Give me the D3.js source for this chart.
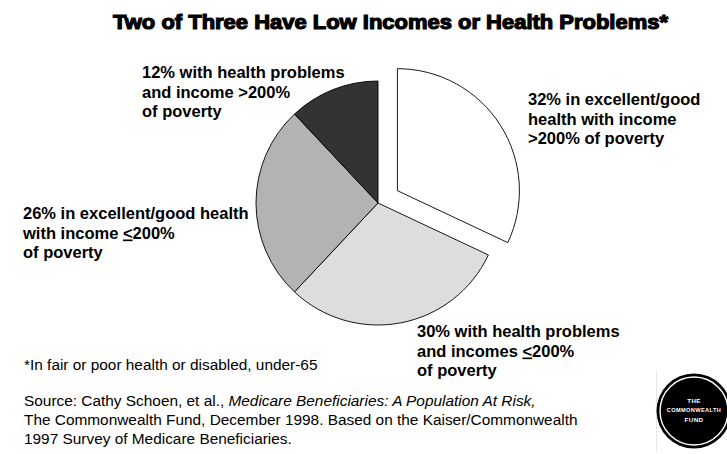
<!DOCTYPE html>
<html>
<head>
<meta charset="utf-8">
<script src="https://cdn.jsdelivr.net/npm/d3@7"></script>
<style>
  html, body { margin: 0; padding: 0; background: #fff; }
  svg { display: block; }
  text { font-family: "Liberation Sans", Arial, sans-serif; fill: #000; }
</style>
</head>
<body>
<svg id="chart" width="727" height="454"></svg>
<script>
// Beneficiary groups, clockwise from 12 o'clock
const groups = ["Excellent/good health, income >200%", "Health problems, income <=200%", "Excellent/good health, income <=200%", "Health problems, income >200%"];
const shares = [32, 30, 26, 12];
const fills = ["#ffffff", "#dddddd", "#b3b3b3", "#333333"];

// Label lines per slice; segments flagged u=true are underlined ("<" standing in for "≤")
const labelLines = [
  [[{t: "32% in excellent/good"}], [{t: "health with income"}], [{t: ">200% of poverty"}]],
  [[{t: "30% with health problems"}], [{t: "and incomes "}, {t: "<", u: true}, {t: "200%"}], [{t: "of poverty"}]],
  [[{t: "26% in excellent/good health"}], [{t: "with income "}, {t: "<", u: true}, {t: "200%"}], [{t: "of poverty"}]],
  [[{t: "12% with health problems"}], [{t: "and income >200%"}], [{t: "of poverty"}]]
];
const labelAnchors = [[528, 105], [417, 337], [23, 219], [142, 78]];

const title = "Two of Three Have Low Incomes or Health Problems*";
const footnote = "*In fair or poor health or disabled, under-65";
const sourceLines = [
  [{t: "Source:  Cathy Schoen, et al., "}, {t: "Medicare Beneficiaries: A Population At Risk,", i: true}],
  [{t: "The Commonwealth Fund, December 1998. Based on the Kaiser/Commonwealth"}],
  [{t: "1997 Survey of Medicare Beneficiaries."}]
];
const logoWords = ["THE", "COMMONWEALTH", "FUND"];

const svg = d3.select("#chart");

// Title
svg.append("text")
  .attr("x", 113).attr("y", 29)
  .attr("textLength", 555).attr("lengthAdjust", "spacingAndGlyphs")
  .style("font-size", "20.5px").style("font-weight", "900")
  .style("stroke", "#000").style("stroke-width", 1.2)
  .text(title);

// Pie
const cx = 378, cy = 203, radius = 122, explode = 23;
const pie = d3.pie().sort(null).startAngle(0).endAngle(2 * Math.PI).value(d => d);
const arc = d3.arc().innerRadius(0).outerRadius(radius);
const arcs = pie(shares);

const g = svg.append("g").attr("transform", `translate(${cx},${cy})`);
g.selectAll("path.slice")
  .data(arcs)
  .join("path")
  .attr("class", "slice")
  .attr("transform", (d, i) => {
    if (i !== 0) return null;
    const a = (d.startAngle + d.endAngle) / 2;
    return `translate(${explode * Math.sin(a)},${-explode * Math.cos(a)})`;
  })
  .attr("d", arc)
  .attr("fill", (d, i) => fills[i])
  .attr("stroke", "#000")
  .attr("stroke-width", 0.9)
  .attr("stroke-linejoin", "miter");

// Slice labels
const lineGap = 19.5;
labelLines.forEach((lines, i) => {
  const [lx, ly] = labelAnchors[i];
  const t = svg.append("text")
    .style("font-size", "16.5px").style("font-weight", "bold");
  lines.forEach((segs, j) => {
    segs.forEach((s, k) => {
      const ts = t.append("tspan").text(s.t);
      if (k === 0) ts.attr("x", lx).attr("y", ly + j * lineGap);
      if (s.u) ts.style("text-decoration", "underline");
    });
  });
});

// Footnote
svg.append("text")
  .attr("x", 24).attr("y", 370)
  .style("font-size", "15.4px")
  .text(footnote);

// Source
const src = svg.append("text").style("font-size", "15.4px");
sourceLines.forEach((segs, j) => {
  segs.forEach((s, k) => {
    const ts = src.append("tspan").text(s.t);
    if (k === 0) ts.attr("x", 24).attr("y", 406 + j * 19);
    if (s.i) ts.style("font-style", "italic");
  });
});

// Logo
svg.append("line")
  .attr("x1", 656.5).attr("x2", 656.5).attr("y1", 370).attr("y2", 452)
  .attr("stroke", "#e8e8e8").attr("stroke-width", 1);
const logo = svg.append("g").attr("transform", "translate(694,411)");
logo.append("circle").attr("r", 37.5).attr("fill", "#000");
logo.append("circle").attr("r", 34).attr("fill", "none")
  .attr("stroke", "#fff").attr("stroke-width", 1.4);
logo.selectAll("text")
  .data(logoWords)
  .join("text")
  .attr("x", 0)
  .attr("y", (d, i) => -8 + i * 9.3)
  .attr("text-anchor", "middle")
  .style("fill", "#fff")
  .style("font-size", (d, i) => i === 1 ? "5.6px" : "6.2px")
  .style("font-weight", "bold")
  .style("letter-spacing", "0.4px")
  .text(d => d);
</script>
</body>
</html>
